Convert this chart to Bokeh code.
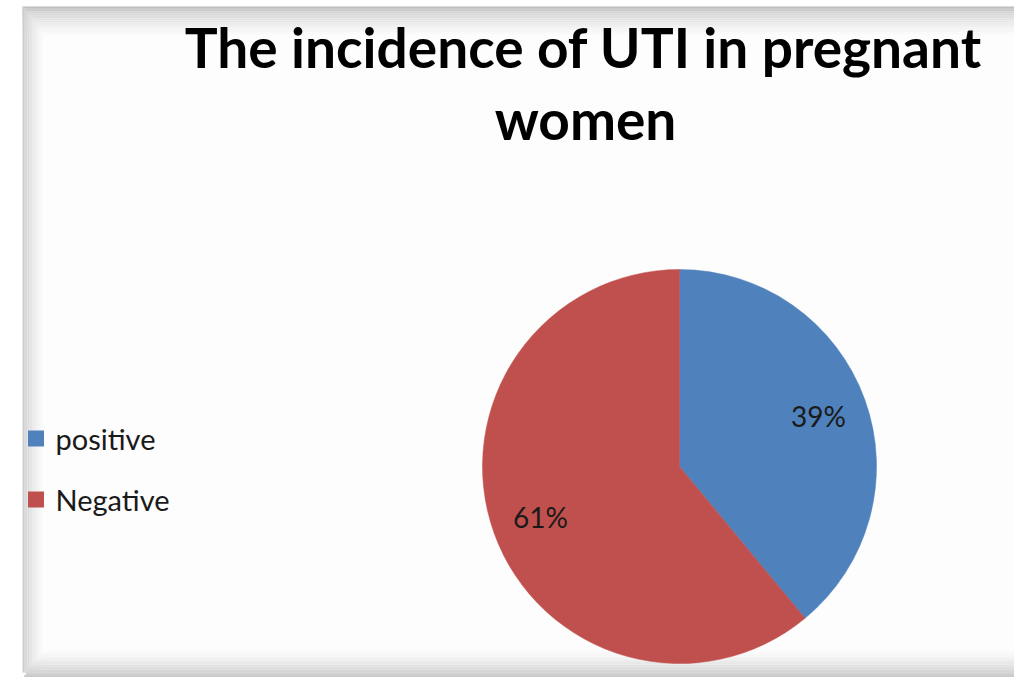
import math
from bokeh.plotting import figure
from bokeh.models import Range1d, ColumnDataSource
from bokeh.core.properties import value
from bokeh.embed import file_html
from bokeh.resources import INLINE

# ---- data ----
categories = ["positive", "Negative"]
percents = [39, 61]
colors = ["#4F81BD", "#C0504D"]
title_lines = ["The incidence of UTI in pregnant", "women"]

W, H = 1014, 677
p = figure(width=W, height=H, output_backend="svg", toolbar_location=None,
           x_range=Range1d(0, W), y_range=Range1d(0, H), min_border=0)
p.axis.visible = False
p.grid.visible = False
p.outline_line_color = None
p.background_fill_color = "white"
p.border_fill_color = "white"

def px(x):  # page x -> data x
    return x

def py(y):  # page y -> data y
    return H - y

# ---- frame (gray shaded edges) ----
def blend(a, b, t):
    return "#%02x%02x%02x" % tuple(int(round(a[i] + (b[i] - a[i]) * t)) for i in range(3))

dark = (190, 190, 190)
white = (253, 253, 253)
p.quad(left=px(22), right=W, top=py(6), bottom=py(677), fill_color="#fdfdfd", line_color=None)
n = 12
# top band
for i in range(n):
    t0 = i / n
    p.quad(left=px(22), right=W, top=py(6 + 28 * t0), bottom=py(6 + 28 * (i + 1) / n),
           fill_color=blend(dark, white, t0 ** 0.6), line_color=None)
# left band
for i in range(n):
    t0 = i / n
    p.quad(left=px(22 + 20 * t0), right=px(22 + 20 * (i + 1) / n), top=py(6 + 28 * t0), bottom=py(672),
           fill_color=blend((205, 205, 205), white, t0 ** 0.8), line_color=None)
# bottom band
for i in range(n):
    t0 = i / n
    p.quad(left=px(22 + 20 * (1 - t0)), right=W, top=py(646 + 31 * t0), bottom=py(646 + 31 * (i + 1) / n),
           fill_color=blend(white, (195, 195, 195), t0 ** 1.5), line_color=None)

# ---- title ----
p.text(x=[px(583)], y=[py(46)], text=[title_lines[0]], text_font=value("Lato"),
       text_font_style="bold", text_font_size="55px", text_align="center",
       text_baseline="middle", text_color="#000000")
p.text(x=[px(585)], y=[py(118)], text=[title_lines[1]], text_font=value("Lato"),
       text_font_style="bold", text_font_size="55px", text_align="center",
       text_baseline="middle", text_color="#000000")

# ---- pie ----
cx, cy, R = px(679), py(466), 197
total = sum(percents)
starts, ends, lx, ly, labels = [], [], [], [], []
a = math.pi / 2
for v in percents:
    sweep = 2 * math.pi * v / total
    starts.append(a)
    ends.append(a - sweep)
    mid = a - sweep / 2
    lx.append(cx + 0.75 * R * math.cos(mid))
    ly.append(cy + 0.75 * R * math.sin(mid))
    labels.append("%d%%" % v)
    a -= sweep

src = ColumnDataSource(dict(start=starts, end=ends, color=colors, lx=lx, ly=ly, label=labels))
p.wedge(x=cx, y=cy, radius=R, start_angle="start", end_angle="end", direction="clock",
        fill_color="color", line_color="color", line_width=0.5, source=src)
p.text(x="lx", y="ly", text="label", source=src, text_font=value("Lato"),
       text_font_size="28px", text_align="center", text_baseline="middle", text_color="#1a1a1a")

# ---- legend ----
leg_y = [py(438), py(499)]
p.rect(x=[px(35.5)] * 2, y=leg_y, width=16, height=16, fill_color=colors, line_color=None)
p.text(x=[px(55)] * 2, y=leg_y, text=categories, text_font=value("Lato"),
       text_font_size="29px", text_align="left", text_baseline="middle", text_color="#1a1a1a")

open("out.html", "w").write(file_html(p, INLINE))
